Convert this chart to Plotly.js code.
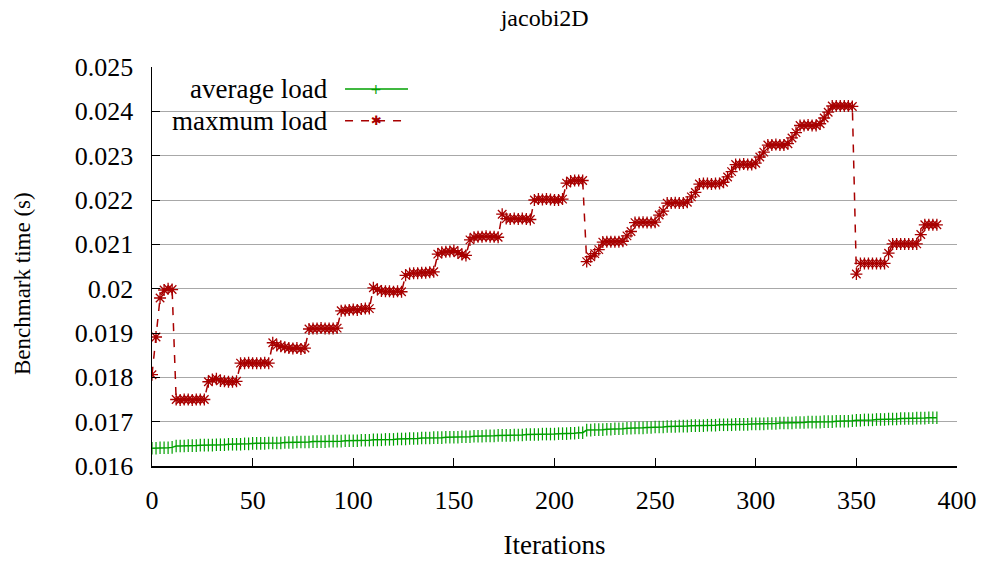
<!DOCTYPE html>
<html>
<head>
<meta charset="utf-8">
<script src="https://cdn.plot.ly/plotly-3.0.1.min.js"></script>
<style>html,body{margin:0;padding:0;background:#fff;}#chart{width:985px;height:561px;}</style>
</head>
<body>
<div id="chart"></div>
<script>
// Iterations (x)
const iterations = [
0,2,4,6,8,10,12,14,16,18,20,22,24,26,28,30,32,34,36,38,40,42,44,46,48,
50,52,54,56,58,60,62,64,66,68,70,72,74,76,78,80,82,84,86,88,90,92,94,96,98,
100,102,104,106,108,110,112,114,116,118,120,122,124,126,128,130,132,134,136,138,140,142,144,146,148,
150,152,154,156,158,160,162,164,166,168,170,172,174,176,178,180,182,184,186,188,190,192,194,196,198,
200,202,204,206,208,210,212,214,216,218,220,222,224,226,228,230,232,234,236,238,240,242,244,246,248,
250,252,254,256,258,260,262,264,266,268,270,272,274,276,278,280,282,284,286,288,290,292,294,296,298,
300,302,304,306,308,310,312,314,316,318,320,322,324,326,328,330,332,334,336,338,340,342,344,346,348,
350,352,354,356,358,360,362,364,366,368,370,372,374,376,378,380,382,384,386,388,390];

// Average load benchmark time (s)
const averageLoad = [
0.01640,0.01640,0.01641,0.01641,0.01641,0.01642,
0.01645,0.01645,0.01645,0.01646,0.01646,0.01646,0.01647,0.01647,0.01647,0.01647,0.01648,0.01648,0.01648,0.01649,0.01649,0.01649,0.01649,0.01650,0.01650,
0.01651,0.01651,0.01651,0.01651,0.01652,0.01652,0.01652,0.01652,0.01653,0.01653,0.01653,0.01654,0.01654,0.01654,0.01654,0.01655,0.01655,0.01655,0.01655,0.01656,0.01656,0.01656,0.01656,0.01657,0.01657,
0.01657,0.01657,0.01658,0.01658,0.01658,0.01659,0.01659,0.01659,0.01660,0.01660,0.01660,0.01661,0.01661,0.01661,0.01662,0.01662,0.01662,0.01663,0.01663,0.01663,0.01664,0.01664,0.01664,0.01665,0.01665,
0.01665,0.01665,0.01666,0.01666,0.01666,0.01667,0.01667,0.01667,0.01668,0.01668,0.01668,0.01669,0.01669,0.01669,0.01669,0.01670,0.01670,0.01670,0.01671,0.01671,0.01671,0.01671,0.01672,0.01672,0.01672,
0.01672,0.01673,0.01673,0.01673,0.01674,0.01674,0.01675,0.01675,
0.01681,0.01681,0.01682,0.01682,0.01682,0.01683,0.01683,0.01684,0.01684,0.01684,0.01685,0.01685,0.01686,0.01686,0.01686,0.01687,0.01687,
0.01688,0.01688,0.01688,0.01689,0.01689,0.01689,0.01690,0.01690,0.01690,0.01691,0.01691,0.01691,0.01691,0.01692,0.01692,0.01692,0.01693,0.01693,0.01693,0.01693,0.01694,0.01694,0.01694,0.01694,0.01695,
0.01695,0.01695,0.01695,0.01696,0.01696,0.01696,0.01697,0.01697,0.01697,0.01697,0.01698,0.01698,0.01698,0.01699,0.01699,0.01699,0.01699,0.01700,0.01700,0.01700,0.01701,0.01701,0.01701,0.01701,0.01702,
0.01703,0.01703,0.01704,0.01704,0.01704,0.01705,0.01705,0.01705,0.01706,0.01706,0.01706,0.01707,0.01707,0.01707,0.01707,0.01708,0.01708,0.01708,0.01709,0.01709,0.01709];

// Maximum load benchmark time (s)
const maxLoad = [
0.01806,0.01891,0.01979,0.01997,0.02000,0.01998,
0.01750,0.01749,0.01750,0.01750,0.01749,0.01750,0.01750,0.01750,
0.01790,0.01795,0.01797,0.01792,0.01791,0.01790,0.01790,0.01791,
0.01832,0.01832,0.01833,0.01832,0.01832,0.01832,0.01833,0.01832,
0.01878,0.01872,0.01870,0.01868,0.01866,0.01865,0.01866,0.01864,0.01866,
0.01909,0.01910,0.01910,0.01911,0.01910,0.01910,0.01910,0.01911,
0.01950,0.01951,0.01952,0.01953,0.01952,0.01954,0.01955,0.01955,
0.02002,0.01998,0.01995,0.01994,0.01994,0.01993,0.01994,0.01993,
0.02030,0.02034,0.02035,0.02035,0.02036,0.02036,0.02037,0.02038,
0.02078,0.02082,0.02083,0.02084,0.02086,0.02081,0.02077,0.02075,
0.02110,0.02116,0.02117,0.02117,0.02118,0.02117,0.02117,0.02116,
0.02168,0.02158,0.02157,0.02158,0.02157,0.02158,0.02157,0.02156,
0.02200,0.02202,0.02201,0.02202,0.02201,0.02200,0.02200,0.02202,
0.02238,0.02243,0.02244,0.02244,0.02244,
0.02061,0.02072,0.02079,0.02088,
0.02105,0.02106,0.02106,0.02106,0.02106,0.02107,
0.02119,0.02129,
0.02149,0.02149,0.02150,0.02149,0.02149,0.02150,
0.02166,0.02175,
0.02193,0.02193,0.02194,0.02193,0.02193,0.02195,
0.02207,0.02217,
0.02236,0.02237,0.02237,0.02236,0.02237,0.02237,0.02240,
0.02252,0.02264,
0.02280,0.02280,0.02281,0.02280,0.02280,0.02283,
0.02297,0.02308,
0.02324,0.02324,0.02325,0.02324,0.02324,0.02327,
0.02340,0.02352,
0.02368,0.02368,0.02369,0.02368,0.02368,0.02372,
0.02385,0.02398,
0.02412,0.02412,0.02412,0.02412,0.02412,0.02411,
0.02033,
0.02057,0.02057,0.02057,0.02057,0.02057,0.02057,0.02057,
0.02080,
0.02101,0.02101,0.02101,0.02101,0.02101,0.02101,0.02101,
0.02122,
0.02144,0.02144,0.02144,0.02144];

const seriesNames = ["average load", "maxmum load"];
const chartTitle = "jacobi2D";
const xTitle = "Iterations";
const yTitle = "Benchmark time (s)";
const xTicks = [0,50,100,150,200,250,300,350,400];
const yTicks = [0.016,0.017,0.018,0.019,0.020,0.021,0.022,0.023,0.024,0.025];

const green = "#00a000";
const red = "#a80000";
const FONT = "'Liberation Serif', 'Times New Roman', serif";
const FS = 26;

const traces = [
  {
    x: iterations, y: averageLoad, name: seriesNames[0], type: "scatter", mode: "lines+markers",
    line: {color: green, width: 1.5},
    marker: {symbol: "line-ns-open", size: 9, color: green, line: {color: green, width: 1.2}},
    showlegend: false
  },
  {
    x: iterations, y: maxLoad, name: seriesNames[1], type: "scatter", mode: "lines+markers",
    line: {color: red, width: 1.5, dash: "8px,8px"},
    marker: {symbol: "asterisk-open", size: 10, color: red, line: {color: red, width: 1.3}},
    showlegend: false
  }
];

const layout = {
  width: 985, height: 561,
  margin: {l: 152, r: 28, t: 67, b: 95, pad: 0},
  paper_bgcolor: "#fff", plot_bgcolor: "#fff",
  font: {family: FONT, size: FS, color: "#000"},
  title: {text: chartTitle, xref: "container", x: 0.553, xanchor: "center", yref: "container", y: 0.968, yanchor: "middle", font: {family: FONT, size: 24, color: "#000"}},
  xaxis: {
    range: [0, 400], tickvals: xTicks, ticktext: xTicks.map(String),
    ticks: "inside", ticklen: 8, tickwidth: 1, tickcolor: "#000",
    showline: true, linecolor: "#000", linewidth: 1.5, mirror: false,
    showgrid: false, zeroline: false, automargin: false,
    ticklabelstandoff: 10,
    tickfont: {family: FONT, size: FS, color: "#000"},
    title: {text: xTitle, font: {family: FONT, size: 27, color: "#000"}, standoff: 21}
  },
  yaxis: {
    range: [0.016, 0.025], tickvals: yTicks, ticktext: yTicks.map(v => String(+v.toFixed(3))),
    ticks: "inside", ticklen: 8, tickwidth: 1, tickcolor: "#000",
    showline: true, linecolor: "#000", linewidth: 1.5, mirror: false,
    showgrid: true, gridcolor: "#a8a8a8", gridwidth: 1, zeroline: false, automargin: false,
    ticklabelstandoff: 12,
    tickfont: {family: FONT, size: FS, color: "#000"}
  },
  showlegend: false,
  annotations: [
    {xref: "paper", yref: "paper", x: -0.1615, y: 0.4586, xanchor: "center", yanchor: "middle", textangle: -90, text: yTitle, showarrow: false, font: {family: FONT, size: 23, color: "#000"}},
    {xref: "paper", yref: "paper", x: 0.221, y: 0.945, xanchor: "right", yanchor: "middle", text: seriesNames[0], showarrow: false, font: {family: FONT, size: 27, color: "#000"}},
    {xref: "paper", yref: "paper", x: 0.221, y: 0.865, xanchor: "right", yanchor: "middle", text: seriesNames[1], showarrow: false, font: {family: FONT, size: 27, color: "#000"}},
    {xref: "paper", yref: "paper", x: 0.2783, y: 0.945, xanchor: "center", yanchor: "middle", text: "+", showarrow: false, font: {family: "DejaVu Sans", size: 14, color: green}},
    {xref: "paper", yref: "paper", x: 0.2783, y: 0.865, xanchor: "center", yanchor: "middle", text: "✱", showarrow: false, font: {family: "DejaVu Sans", size: 13, color: red}}
  ],
  shapes: [
    {type: "line", xref: "paper", yref: "paper", x0: 0.2398, x1: 0.318, y0: 0.945, y1: 0.945, line: {color: green, width: 1.5}},
    {type: "line", xref: "paper", yref: "paper", x0: 0.2398, x1: 0.318, y0: 0.865, y1: 0.865, line: {color: red, width: 1.5, dash: "8px,8px"}}
  ]
};

Plotly.newPlot("chart", traces, layout, {displayModeBar: false, staticPlot: true});
</script>
</body>
</html>
